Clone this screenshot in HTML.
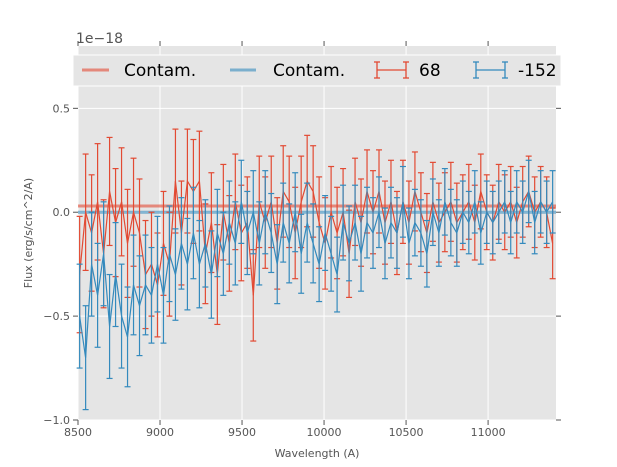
<!DOCTYPE html>
<html><head><meta charset="utf-8"><style>
body{margin:0;background:#fff;}
svg{display:block;font-family:"DejaVu Sans","Liberation Sans",sans-serif;}
</style></head><body>
<svg id="chart" width="617" height="467">
<rect x="78" y="46" width="478" height="374" fill="#e5e5e5"/>
<g id="grid"></g>
<g id="series"></g>
<g id="axes"></g>
<text x="76" y="43" font-size="14" fill="#555">1e−18</text>
<text x="317" y="457" font-size="11" fill="#555" text-anchor="middle">Wavelength (A)</text>
<text transform="translate(32,233) rotate(-90)" font-size="11" fill="#555" text-anchor="middle">Flux (erg/s/cm^2/A)</text>
<g>
<rect x="73" y="55" width="488" height="31" fill="#e5e5e5" stroke="#fff" stroke-width="1"/>
<g>
<line x1="82" y1="70" x2="109" y2="70" stroke="#E24A33" stroke-opacity="0.6" stroke-width="3"/>
<text x="124" y="76" font-size="17" fill="#000">Contam.</text></g>
<g>
<line x1="230" y1="70" x2="256" y2="70" stroke="#348ABD" stroke-opacity="0.6" stroke-width="3"/>
<text x="273" y="76" font-size="17" fill="#000">Contam.</text></g>
<g stroke="#E24A33" stroke-width="1.3">
<line x1="377" y1="70" x2="406" y2="70"/><line x1="377" y1="62" x2="377" y2="78"/><line x1="406" y1="62" x2="406" y2="78"/>
<line x1="374" y1="62" x2="380" y2="62"/><line x1="374" y1="78" x2="380" y2="78"/><line x1="403" y1="62" x2="409" y2="62"/><line x1="403" y1="78" x2="409" y2="78"/>
<text x="419" y="76" font-size="17" fill="#000" stroke="none">68</text></g>
<g stroke="#348ABD" stroke-width="1.3">
<line x1="476" y1="70" x2="505" y2="70"/><line x1="476" y1="62" x2="476" y2="78"/><line x1="505" y1="62" x2="505" y2="78"/>
<line x1="473" y1="62" x2="479" y2="62"/><line x1="473" y1="78" x2="479" y2="78"/><line x1="502" y1="62" x2="508" y2="62"/><line x1="502" y1="78" x2="508" y2="78"/>
<text x="518" y="76" font-size="17" fill="#000" stroke="none">-152</text></g>
</g>
</svg>
<script>
const xTicks=[8500,9000,9500,10000,10500,11000];
const yTicks=[-1.0,-0.5,0.0,0.5];
const yTickLabels=["−1.0","−0.5","0.0","0.5"];
const waveStart=8510, waveStep=36.5;
const redFlux=[-0.30,0.00,-0.10,0.05,-0.20,0.10,-0.05,0.05,-0.15,0.00,
-0.10,-0.30,-0.25,-0.35,-0.15,-0.25,0.15,-0.10,0.15,0.10,
0.15,-0.20,-0.05,-0.30,0.00,-0.15,0.05,-0.10,-0.05,-0.40,
0.05,-0.05,0.05,-0.15,0.10,0.05,-0.10,0.05,0.15,0.10,
-0.05,-0.15,0.00,-0.10,0.00,-0.20,0.05,-0.05,0.10,0.00,
0.10,-0.05,0.05,-0.10,0.05,-0.05,0.10,0.00,-0.10,0.05,
-0.05,0.00,0.05,-0.05,0.00,0.05,-0.05,0.10,0.00,-0.05,
0.05,0.00,0.05,-0.05,0.05,0.10,0.00,0.05,0.00,-0.15];
const blueFlux=[-0.50,-0.70,-0.25,-0.40,-0.20,-0.55,-0.30,-0.50,-0.60,-0.35,
-0.45,-0.35,-0.40,-0.25,-0.40,-0.20,-0.30,-0.15,-0.25,-0.10,
-0.25,-0.15,-0.30,-0.10,-0.20,-0.05,-0.15,0.05,-0.10,0.00,
-0.15,0.00,-0.10,-0.25,-0.05,-0.15,0.00,-0.20,-0.05,-0.15,
-0.25,-0.10,-0.20,-0.30,-0.05,-0.15,-0.05,-0.20,-0.05,-0.10,
0.00,-0.15,-0.05,-0.10,0.05,-0.15,-0.05,-0.10,-0.20,0.00,
-0.10,0.05,-0.05,-0.10,0.00,-0.05,0.05,-0.10,0.00,-0.05,
0.00,0.05,-0.05,0.05,0.00,0.10,-0.05,0.05,0.00,0.05];
const redErr=[0.28,0.26,0.26,0.25,0.25,0.24,0.23,0.22,0.22,0.22,0.22,0.21,0.20,0.20,0.19,0.19,0.18,0.18,0.17,0.17];
const blueErr=[0.25,0.25,0.24,0.23,0.22,0.21,0.20,0.20,0.19,0.19,0.18,0.18,0.17,0.17,0.16,0.16,0.15,0.15,0.15,0.15];
const contamRed=0.03, contamBlue=0.0;
const xMin=8500,xMax=11414,yMin=-1.0,yMax=0.8;
const L=78,R=556,T=46,B=420;
const X=v=>L+(v-xMin)/(xMax-xMin)*(R-L);
const Y=v=>B-(v-yMin)/(yMax-yMin)*(B-T);
const NS="http://www.w3.org/2000/svg";
function mk(tag,attrs,parent){const e=document.createElementNS(NS,tag);for(const k in attrs)e.setAttribute(k,attrs[k]);parent.appendChild(e);return e;}
const grid=document.getElementById('grid'),axes=document.getElementById('axes'),ser=document.getElementById('series');
xTicks.forEach((t,i)=>{
 const g=mk('line',{x1:X(t),x2:X(t),y1:T,y2:B,stroke:'#fff','stroke-width':1},grid);
 
 
 mk('line',{x1:X(t),x2:X(t),y1:B,y2:B+5,stroke:'#555'},axes);
 mk('line',{x1:X(t),x2:X(t),y1:T,y2:T-5,stroke:'#555'},axes);
 const tx=mk('text',{x:X(t),y:B+16,'font-size':11,fill:'#555','text-anchor':'middle'},axes);
 tx.textContent=t;
 
 
});
yTicks.forEach((t,i)=>{
 const g=mk('line',{x1:L,x2:R,y1:Y(t),y2:Y(t),stroke:'#fff','stroke-width':1},grid);
 
 
 mk('line',{x1:L-5,x2:L,y1:Y(t),y2:Y(t),stroke:'#555'},axes);
 mk('line',{x1:R,x2:R+5,y1:Y(t),y2:Y(t),stroke:'#555'},axes);
 const tx=mk('text',{x:L-8,y:Y(t)+4,'font-size':11,fill:'#555','text-anchor':'end'},axes);
 tx.textContent=yTickLabels[i];
 
 
});
const cr=mk('line',{x1:L,x2:R,y1:Y(contamRed),y2:Y(contamRed),stroke:'#E24A33','stroke-opacity':0.6,'stroke-width':3},ser);


const cb=mk('line',{x1:L,x2:R,y1:Y(contamBlue),y2:Y(contamBlue),stroke:'#348ABD','stroke-opacity':0.6,'stroke-width':3},ser);


function drawSeries(vals,errs,color,name){
 const g=mk('g',{stroke:color,'stroke-width':1.2,fill:'none'},ser);
 
 
 let d='';
 vals.forEach((v,i)=>{
  const w=waveStart+i*waveStep;
  const e=errs[Math.min(errs.length-1,Math.floor(i/4))];
  const x=X(w);
  d+=(i?'L':'M')+x.toFixed(1)+','+Y(v).toFixed(1);
  mk('line',{x1:x,x2:x,y1:Y(v-e),y2:Y(v+e)},g);
  mk('line',{x1:x-3,x2:x+3,y1:Y(v-e),y2:Y(v-e)},g);
  mk('line',{x1:x-3,x2:x+3,y1:Y(v+e),y2:Y(v+e)},g);
 });
 mk('path',{d:d},g);
}
drawSeries(redFlux,redErr,'#E24A33','series-68');
drawSeries(blueFlux,blueErr,'#348ABD','series-minus-152');
</script>
</body></html>
